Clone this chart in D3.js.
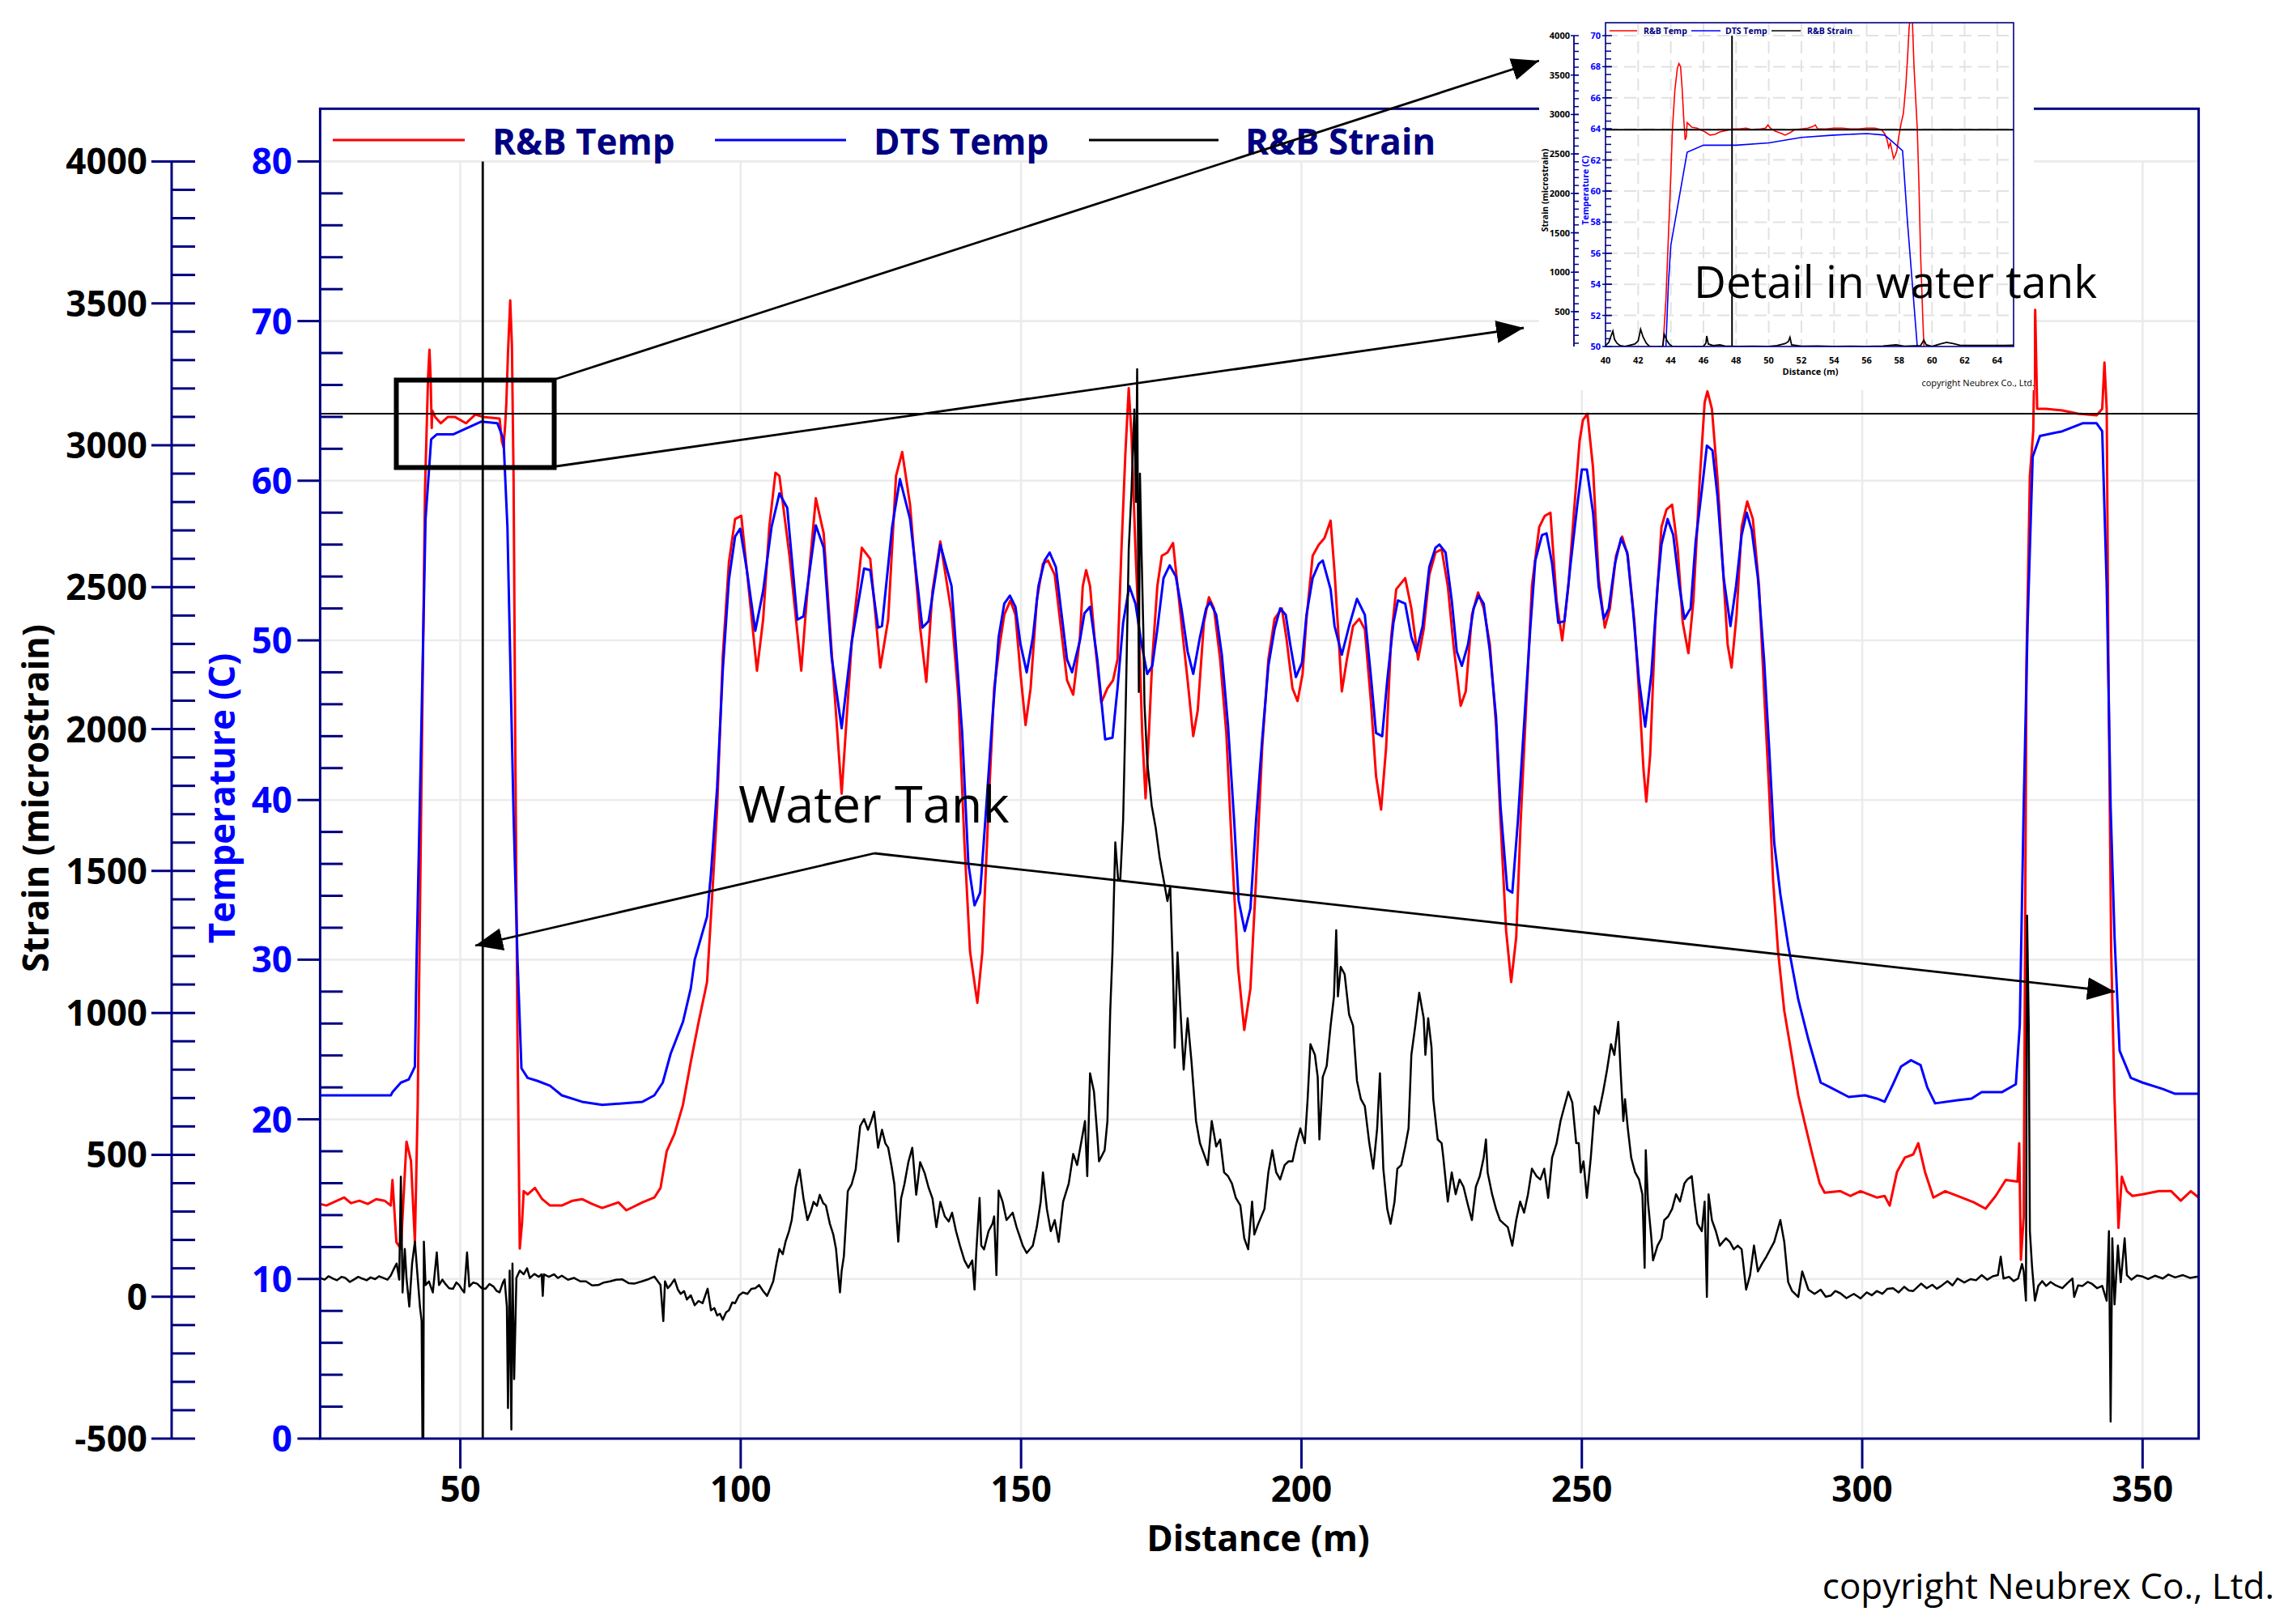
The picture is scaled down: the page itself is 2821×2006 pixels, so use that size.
<!DOCTYPE html>
<html><head><meta charset="utf-8">
<script src="https://cdn.jsdelivr.net/npm/d3@7"></script>
<style>html,body{margin:0;padding:0;background:#fff;}svg{display:block;}</style>
</head><body>
<script>
// ---------------- DATA ----------------
const xTicks = [50,100,150,200,250,300,350];
const tempTicks = [0,10,20,30,40,50,60,70,80];
const strainTicks = [-500,0,500,1000,1500,2000,2500,3000,3500,4000];
const legendNames = ["R&B Temp","DTS Temp","R&B Strain"];
const seriesColors = ["#ff0000","#0000ff","#000000"];
const refTemp = 64.2, refDist = 54.0;

const rbTemp = [[25,14.7],[26.1,14.6],[28,14.9],[29.3,15.1],[30.5,14.75],[32,14.9],[33.5,14.7],[35,15],[36.5,14.9],[37.6,14.6],[37.9,16.2],[38.6,12.3],[39.4,11.9],[40.4,18.6],[41.2,17.4],[41.9,12.3],[42.4,20.9],[43,39],[43.7,59.4],[44.25,66.5],[44.5,68.2],[44.7,66.5],[44.9,63.3],[45,64.4],[45.5,64],[46.5,63.6],[47.8,64],[49,64],[51,63.6],[52.7,64.15],[54,64],[57,63.9],[57.4,62.5],[57.7,62.1],[58,63.5],[58.2,64.8],[58.5,68],[58.9,71.3],[59.2,68.5],[59.5,60],[59.8,43.6],[60.2,25],[60.6,11.9],[61,13.5],[61.3,15.5],[62,15.3],[63.3,15.7],[64.6,15],[66,14.6],[68.1,14.6],[70,14.9],[71.7,15],[73.5,14.7],[75.3,14.45],[78.2,14.8],[79.6,14.3],[82.5,14.8],[84.6,15.1],[85.7,15.7],[86.8,18],[88.2,19.1],[89.7,20.9],[91.1,23.6],[92.5,26.1],[94,28.6],[95,34.5],[95.8,39.5],[96.8,49],[97.9,54.9],[99,57.6],[100.1,57.8],[101.1,54.4],[102.9,48.1],[104,51.3],[105.1,57.1],[106.2,60.5],[106.9,60.3],[108.7,55.3],[110.8,48.1],[111.9,53.1],[113.4,58.9],[114.8,56.7],[116.2,49.4],[118,40.4],[119.8,49.9],[121.6,55.8],[123.1,55.1],[124.9,48.3],[126.3,51.3],[127.7,60.3],[128.8,61.8],[130.2,58.5],[132,50.8],[133.1,47.4],[134.2,53.1],[135.6,56.2],[137.6,51.7],[138.8,46.5],[139.9,37.3],[140.9,30.5],[142.2,27.3],[143.1,30.5],[144.2,39.6],[145.2,47],[146.2,49.75],[147,51.6],[148.1,52.5],[149,51.6],[149.9,47.9],[150.8,44.7],[151.7,47],[152.8,52.5],[153.9,54.8],[154.8,55],[156,54.1],[157,51.1],[158.2,47.5],[159.3,46.6],[160.5,50.2],[161,53.4],[161.6,54.4],[162.3,53.4],[163.2,49.75],[164.3,46.1],[165.4,47],[166.4,47.5],[167.2,48.8],[167.9,55.7],[168.6,61.7],[169.2,65.8],[169.7,62.8],[170.4,55.7],[171.1,49.75],[171.6,44.2],[172.2,40.1],[172.8,44.2],[173.4,48.8],[174.3,53.4],[175.1,55.3],[176.1,55.5],[177.1,56.1],[177.9,53.4],[179,49.75],[179.7,47.5],[180.7,44],[181.5,45.6],[182.6,51.1],[183.5,52.7],[184.4,52],[185.5,48.8],[186.6,44.2],[187.6,36.9],[188.7,29.5],[189.8,25.6],[190.9,28.2],[191.9,35],[193,43.3],[194.1,48.8],[195.2,51.35],[196.5,52],[197.3,50.2],[198.4,47],[199.3,46.2],[200.2,47.9],[200.9,51.35],[202,55.3],[203.1,56],[204.1,56.4],[205.2,57.5],[205.9,54.3],[206.7,49.75],[207.2,46.8],[208.1,48.8],[209.2,50.9],[210.3,51.35],[211.3,50.7],[212.4,46.1],[213.3,41.5],[214.2,39.4],[215.1,43.3],[216,50.2],[216.9,53.2],[218.5,53.9],[219.6,52],[220.8,48.8],[221.8,50.7],[222.8,54.1],[223.9,55.5],[225,55.7],[226.1,53.4],[227.1,49.75],[228.4,45.9],[229.3,46.8],[230.4,51.6],[231.5,53],[232.5,52],[233.6,49.75],[234.7,44.7],[235.5,38.7],[236.5,31.8],[237.4,28.6],[238.3,31.4],[239.1,38.7],[240.1,46.1],[241.1,53.4],[242.4,57.1],[243.4,57.8],[244.4,58],[245.5,52.5],[246.5,50],[247.6,53.4],[248.7,58.5],[249.6,62.5],[250.2,63.8],[251,64.2],[252,60.8],[253,53.9],[254.1,50.8],[255,52],[256.1,55.3],[257.2,56.5],[258.2,55.3],[259.4,51.1],[260.4,45.6],[261,41.9],[261.5,39.9],[262.2,42.9],[263.1,51.1],[264.2,57.1],[265.1,58.2],[266.1,58.5],[267.1,55.7],[268,51.1],[269,49.2],[269.9,52.5],[271,59.9],[271.9,64.9],[272.4,65.6],[273.2,64.5],[274.2,60.1],[275.2,54.3],[276,49.75],[276.7,48.3],[277.6,51.6],[278.5,57.1],[279.5,58.7],[280.5,57.6],[281.6,53.4],[282.6,46.1],[283.4,40.6],[284.1,35],[285,30.5],[286.1,26.8],[287.2,24.5],[288.6,21.5],[290,19.4],[291.1,17.8],[292.4,16],[293.3,15.4],[296.1,15.5],[297.9,15.2],[299.7,15.5],[302.6,15.1],[304,15.2],[304.9,14.6],[306.2,16.7],[307.6,17.6],[309.1,17.8],[310,18.5],[311.2,16.7],[312.7,15.1],[314.8,15.5],[317.7,15.1],[319.9,14.8],[322,14.4],[323.8,15.2],[325.6,16.2],[327.7,16.1],[328,18.5],[328.3,11.2],[328.8,13.9],[329.3,48.8],[329.9,60.3],[330.5,63.1],[330.85,70.7],[331.2,64.5],[332.8,64.5],[335.7,64.4],[338.5,64.2],[341.8,64.1],[342.8,64.5],[343.2,67.4],[343.6,64.5],[343.9,48.8],[344.4,30.5],[345,21.3],[345.7,13.2],[346.3,16.4],[347.2,15.5],[348.2,15.2],[350,15.3],[352.9,15.5],[355.1,15.5],[356.8,14.9],[358.6,15.5],[360,15.1]];

const dtsTemp = [[25,21.5],[37.6,21.5],[37.9,21.7],[39.4,22.3],[40.8,22.5],[41.9,23.3],[42.2,30],[43,43.6],[43.8,57.6],[44.8,62.6],[45.8,62.9],[48.7,62.9],[53.7,63.7],[56.6,63.6],[57.7,62.6],[58.4,57.1],[59.5,39],[60.2,30],[60.9,23.2],[62,22.6],[63.8,22.4],[66,22.1],[68.1,21.5],[71.7,21.1],[75.3,20.9],[82.5,21.1],[84.6,21.5],[86.1,22.3],[87.5,24.1],[89.7,26.1],[91.1,28.2],[91.8,30],[94,32.7],[94.7,35.4],[95.8,40.8],[96.8,48.1],[97.9,53.8],[99,56.5],[99.9,57],[101.1,54.4],[102.6,50.6],[104,53.1],[105.5,57.1],[106.9,59.2],[108.3,58.3],[110.1,51.3],[111.2,51.5],[113.4,57.2],[114.8,55.8],[116.2,49],[118,44.5],[119.8,49.9],[122,54.5],[123.1,54.4],[124.5,50.8],[125.2,50.9],[127,57.1],[128.4,60.1],[130.2,57.6],[132.4,50.8],[133.5,51.2],[135.6,56],[137.6,53.4],[139.5,44.2],[140.6,36],[141.7,33.4],[142.7,34.2],[143.8,39.6],[144.9,45.2],[146,50.2],[147,52.3],[148,52.8],[149,52.1],[149.9,49.75],[151,48],[152.1,50.2],[153.1,53.4],[154.2,55],[155.1,55.5],[156.2,54.6],[157.1,52],[158.2,48.8],[159.1,48],[160.5,50],[161.3,51.7],[162.3,52.1],[163.6,48.8],[165,43.8],[166.3,43.9],[167.2,47],[168.2,51.1],[169.3,53.4],[170.4,52.3],[171.5,49.75],[172.5,47.9],[173.4,48.4],[174.3,50.7],[175.4,53.9],[176.5,54.7],[177.6,54],[178.6,52],[179.7,49.3],[180.7,47.9],[181.9,50.2],[183,52],[183.7,52.4],[184.8,51.6],[185.8,49.1],[186.9,44.7],[188,38.7],[188.8,33.7],[189.9,31.8],[190.9,33.2],[191.9,38.7],[193,43.8],[194.1,48.4],[195.2,50.7],[196.2,52],[197.2,51.6],[198,49.75],[199,47.7],[200.1,48.6],[200.9,51.6],[202,53.9],[203.1,54.8],[203.8,55],[205.2,53.2],[205.9,50.9],[207.2,49.1],[208.5,50.9],[209.9,52.6],[211.3,51.6],[212.4,47.7],[213.3,44.2],[214.4,44],[215.3,47.5],[216.4,51.1],[217.2,52.5],[218.5,52.3],[219.6,50.2],[220.5,49.3],[221.6,50.9],[222.8,54.6],[223.9,55.8],[224.6,56],[225.7,55.5],[226.8,52.5],[227.7,49.3],[228.6,48.4],[229.7,49.75],[230.7,52],[231.6,52.8],[232.5,52.3],[233.6,49.3],[234.7,45.2],[235.5,39.6],[236.7,34.4],[237.6,34.2],[238.6,38.7],[239.6,44.2],[240.8,50.7],[241.7,55],[242.9,56.6],[243.7,56.7],[244.7,54.8],[245.8,51.1],[246.9,51.2],[248,54.8],[249.2,58.5],[250,60.7],[250.9,60.7],[252,58],[253,53.4],[253.9,51.35],[254.8,52],[255.9,54.8],[257,56.4],[258.1,55.5],[259.1,52],[260.2,47.5],[261.3,44.6],[262.4,47.9],[263.5,53.4],[264.2,56],[265.3,57.6],[266.3,56.6],[267.4,53.4],[268.3,51.35],[269.4,52],[270.3,56.2],[271.4,59.4],[272.3,62.2],[273.3,61.9],[274.2,59],[275.3,53.9],[276.5,50.9],[277.5,53.4],[278.5,56.6],[279.4,58],[280.3,56.9],[281.4,53.9],[282.5,48.8],[283.4,43.3],[284.3,37.35],[285.4,34.1],[286.8,30.9],[288.6,27.5],[290.4,25],[292.6,22.3],[294.3,22],[297.6,21.4],[300.5,21.5],[302.6,21.3],[304,21.1],[305.5,22.2],[306.9,23.3],[308.7,23.7],[310.4,23.4],[311.6,22],[313,21],[317,21.2],[319.5,21.3],[321.3,21.7],[324.9,21.7],[327.4,22.2],[328.1,25.9],[328.8,39.6],[329.5,51.1],[330.4,61.5],[331.7,62.8],[335.7,63.1],[339.3,63.6],[341.8,63.6],[342.8,63.1],[343.6,53.4],[344.3,39.6],[345,31.4],[345.9,24.3],[347.9,22.6],[350,22.3],[353.6,21.9],[355.8,21.6],[360,21.6]];

const rbStrain = [[25,66],[25.8,60],[26.5,72],[27.3,64],[28,58],[28.8,70],[29.5,66],[30.3,52],[31,60],[31.8,70],[32.5,64],[33.3,58],[34,68],[34.8,62],[35.5,72],[36.3,66],[37,60],[37.6,75],[38.2,100],[38.65,117],[39.1,60],[39.4,423],[39.7,15],[40.1,168],[40.4,66],[40.9,-35],[41.4,117],[41.9,194],[42.4,66],[42.8,-35],[43.1,-86],[43.25,-520],[43.4,-520],[43.5,194],[43.8,41],[44.4,54],[45.1,15],[45.8,156],[46.2,41],[46.8,60],[47.3,46],[48,30],[48.7,28],[49.3,50],[49.8,41],[50.3,25],[50.7,15],[51.2,156],[51.6,36],[52.3,50],[53,46],[53.8,30],[54.5,28],[55.2,45],[55.9,36],[56.5,20],[57,15],[57.6,50],[57.9,61],[58.3,-35],[58.5,-392],[58.8,92],[59.1,-468],[59.3,117],[59.6,-290],[60,66],[60.6,92],[61.3,79],[61.9,100],[62.4,66],[63.2,80],[64,70],[64.5,79],[64.7,3],[64.9,79],[65.8,70],[66.7,79],[67.4,66],[68.1,74],[69.2,60],[70.3,66],[71.4,54],[72.4,54],[73.5,40],[74.6,41],[75.6,50],[76.7,54],[77.8,60],[78.9,61],[80,48],[81,46],[82.5,55],[83.6,62],[84.6,71],[85.7,41],[86.2,-86],[86.5,54],[87,30],[87.5,41],[88.2,61],[88.8,25],[89.3,10],[89.9,20],[90.4,-10],[91.1,5],[91.8,-30],[92.5,-15],[93.2,-23],[94.1,28],[94.7,-48],[95.3,-40],[95.8,-66],[96.3,-60],[96.8,-81],[97.4,-55],[97.9,-48],[98.5,-20],[99,-23],[99.7,5],[100.4,15],[101.2,10],[101.9,28],[102.6,30],[103.3,41],[104,20],[104.7,3],[105.3,30],[105.8,54],[106.4,120],[106.9,168],[107.5,150],[108,194],[108.6,230],[109.1,270],[109.8,385],[110.5,448],[111.2,346],[111.9,270],[112.5,300],[113,334],[113.6,320],[114.1,359],[114.7,330],[115.2,321],[115.9,257],[116.5,220],[117,168],[117.4,80],[117.7,15],[118,90],[118.4,143],[119.1,372],[119.8,397],[120.5,448],[121.3,601],[122,626],[122.7,588],[123.3,620],[123.8,652],[124.5,525],[125.2,588],[125.8,540],[126.3,525],[126.9,460],[127.4,397],[128.1,194],[128.6,346],[129.2,397],[129.9,474],[130.6,525],[131.3,359],[132,474],[132.8,436],[133.5,385],[134.2,346],[134.9,245],[135.6,334],[136.4,283],[137.1,265],[137.7,296],[138.4,231],[139.1,180],[139.9,128],[140.6,102],[141.3,128],[141.7,25],[142,154],[142.6,348],[142.9,180],[143.4,167],[144.2,231],[144.9,257],[145.2,283],[145.6,76],[146,374],[146.7,335],[147.4,270],[148.5,296],[149.2,245],[150.3,180],[151,154],[152.1,180],[152.8,245],[153.5,335],[153.9,438],[154.6,309],[155.3,231],[156,270],[156.7,193],[157.5,335],[158.5,399],[159.3,503],[160,464],[160.7,541],[161.4,619],[161.8,425],[162.3,787],[163,722],[163.6,567],[163.9,477],[164.9,516],[165.4,619],[165.9,1007],[166.3,1213],[166.8,1601],[167.3,1472],[167.7,1472],[168.2,1679],[168.7,2118],[169.2,2635],[169.7,2841],[170.2,3126],[170.5,2800],[170.7,3268],[171,2131],[171.2,2900],[171.5,2609],[171.8,2350],[172,2092],[172.5,1885],[173.3,1730],[174,1653],[174.7,1549],[175.4,1472],[176.1,1394],[176.6,1446],[177.1,1136],[177.4,877],[177.9,1213],[178.5,981],[179,800],[179.7,981],[180.4,826],[181.2,619],[181.9,541],[182.6,503],[183.3,464],[184,619],[184.8,529],[185.5,554],[186.2,438],[186.9,425],[187.6,399],[188.3,348],[189.1,322],[189.8,206],[190.5,167],[191.2,335],[191.6,219],[192.3,257],[193.4,309],[194.1,438],[194.8,516],[195.5,438],[196.2,413],[197,464],[197.7,477],[198.4,477],[199.1,541],[199.8,593],[200.6,541],[201.1,696],[201.6,890],[202.4,852],[202.9,774],[203.2,554],[203.8,774],[204.5,813],[205.2,955],[205.8,1058],[206.2,1291],[206.5,1058],[207,1162],[207.7,1136],[208.5,994],[209.2,955],[209.9,761],[210.6,696],[211.3,671],[212.1,541],[212.8,451],[213.5,593],[214,787],[214.6,451],[215.3,309],[215.9,257],[216.6,335],[217.1,451],[217.8,464],[218.5,529],[219.1,593],[219.6,852],[220.3,955],[221,1071],[221.8,981],[222.1,852],[222.6,981],[223.2,877],[223.5,696],[224.3,554],[225,541],[225.3,490],[226.1,335],[226.8,438],[227.5,361],[228.2,413],[228.9,387],[229.7,322],[230.4,270],[231.1,387],[231.8,425],[232.5,490],[232.9,554],[233.2,438],[234,361],[234.7,309],[235.4,270],[236.1,257],[236.8,245],[237.6,180],[238.3,270],[239,335],[239.7,296],[240.4,361],[241.1,451],[241.9,425],[242.6,413],[243.3,451],[244,348],[244.7,490],[245.5,541],[246.2,619],[246.9,671],[247.6,722],[248.3,684],[249,541],[249.45,541],[249.8,438],[250.3,477],[250.9,348],[251.6,490],[252.3,671],[253,645],[253.8,722],[254.5,800],[255.2,890],[255.8,852],[256.1,903],[256.5,968],[256.9,800],[257.4,619],[257.7,696],[258.2,593],[258.8,490],[259.5,438],[260.2,413],[260.8,361],[261.2,102],[261.4,516],[261.8,335],[262.4,206],[262.7,128],[263.5,180],[264.2,206],[264.7,270],[265.4,283],[266.1,309],[266.8,361],[267.5,335],[268.3,399],[268.8,413],[269.6,425],[270.1,335],[270.6,257],[271.4,231],[271.9,335],[272.3,-1],[272.6,361],[273.2,270],[273.9,231],[274.6,180],[275.7,206],[276.4,193],[277.1,167],[277.8,180],[278.5,167],[279.3,25],[280,76],[280.7,180],[281.4,89],[282.1,115],[282.9,141],[283.6,167],[284.3,193],[285.4,270],[286.1,193],[286.8,51],[287.5,20],[288.6,-1],[289.3,89],[290.4,25],[291.5,10],[292.6,25],[293.5,0],[294.4,4],[295.2,20],[296.1,12],[297.2,-5],[298.5,10],[299.7,-6],[300.8,15],[301.7,5],[302.6,20],[303.6,10],[304.5,28],[305.5,30],[306.5,15],[307.5,35],[308.3,22],[309.1,20],[310.5,46],[311.5,30],[312.5,42],[313.3,28],[314.1,38],[315.2,55],[316.1,40],[317,64],[318.2,50],[319.3,62],[320.3,58],[321.3,76],[322.3,60],[323.3,72],[324.2,76],[324.7,141],[325.2,64],[326.2,70],[327,55],[327.8,64],[328.5,115],[328.8,89],[329.2,-14],[329.4,1343],[329.7,955],[329.9,231],[330.3,102],[330.8,-14],[331.4,38],[332.1,55],[332.8,38],[333.6,52],[334.5,40],[335.7,30],[336.6,48],[337.5,64],[337.8,-1],[338.5,40],[339.3,38],[340.2,52],[341,45],[341.9,30],[342.8,38],[343.6,-14],[344,231],[344.3,-440],[344.6,206],[345,-27],[345.6,180],[346.1,51],[346.8,206],[347.2,76],[348,60],[349,75],[350,71],[351,62],[352.2,74],[353.6,64],[354.6,78],[355.8,68],[357.2,76],[358.5,66],[359.9,71]];

// inset (detail in water tank)
const insetXTicks = [40,42,44,46,48,50,52,54,56,58,60,62,64];
const insetTempTicks = [50,52,54,56,58,60,62,64,66,68,70];
const insetStrainTicks = [500,1000,1500,2000,2500,3000,3500,4000];
const insetRefTemp = 63.95, insetRefDist = 47.75;
const insetRbTemp = [[43.3,45],[43.55,50.5],[43.7,53],[43.85,57],[44,61],[44.1,64],[44.25,66.5],[44.4,67.9],[44.5,68.2],[44.6,68],[44.7,66.5],[44.8,64.5],[44.88,63.3],[44.95,63.5],[45,64.4],[45.1,64.3],[45.3,64.1],[45.6,64.05],[45.9,63.9],[46.1,63.8],[46.4,63.6],[46.7,63.65],[47,63.8],[47.4,63.9],[47.8,64],[48.2,64],[48.6,64.05],[49,63.95],[49.5,64],[49.8,64.05],[49.95,64.25],[50.1,64.05],[50.4,63.85],[50.8,63.7],[51,63.6],[51.3,63.75],[51.6,63.95],[52,64],[52.4,64.05],[52.7,64.15],[52.85,64.25],[53,64],[53.5,64],[54,64.05],[54.5,64.05],[55,64],[55.5,64],[56,64.05],[56.5,64.05],[56.9,63.95],[57.1,63.7],[57.25,63.3],[57.35,62.8],[57.45,63.1],[57.55,62.6],[57.65,62.1],[57.75,62.3],[57.85,62.6],[57.95,63.4],[58.1,64.3],[58.25,65],[58.4,66.8],[58.5,68.5],[58.6,70.5],[58.7,71.5],[58.8,71],[58.9,68],[59,66],[59.1,64],[59.2,60.5],[59.3,56],[59.45,51.5],[59.55,49]];
const insetDtsTemp = [[43.5,45],[43.7,50],[43.85,54],[44,56.5],[44.5,59.5],[45,62.5],[46,62.95],[48,62.95],[50,63.1],[52,63.45],[54,63.6],[56,63.7],[57.1,63.6],[57.5,63.25],[58.2,62.6],[58.5,58],[59.1,50],[59.3,47]];
const insetRbStrain = [[40,70],[40.2,110],[40.35,200],[40.45,254],[40.55,150],[40.7,100],[40.9,70],[41.2,60],[41.5,75],[41.8,90],[42,130],[42.15,277],[42.3,180],[42.5,100],[42.7,60],[43,55],[43.5,60],[43.6,212],[43.75,140],[43.9,90],[44.1,60],[45,58],[46,62],[46.15,100],[46.2,192],[46.3,90],[46.6,70],[47,80],[47.3,65],[48,60],[49,62],[50,60],[50.5,70],[51,95],[51.2,120],[51.3,175],[51.4,80],[52,62],[53,65],[54,60],[55,62],[56,60],[57,65],[57.8,80],[58.3,62],[59.3,70],[59.5,140],[59.65,80],[60,60],[60.5,90],[60.9,110],[61.3,95],[61.7,75],[62.5,72],[63.5,72],[64.5,72],[65,75]];

// ---------------- DRAW ----------------
(function draw() {
const W = 2821, H = 2006;
const NAVY = "#000080";
const FONT = "'Open Sans', 'Noto Sans', sans-serif";
const svg = d3.select("body").append("svg").attr("width", W).attr("height", H)
  .style("font-family", FONT);
svg.append("rect").attr("width", W).attr("height", H).attr("fill", "#fff");

const x = d3.scaleLinear().domain([25, 360]).range([395.4, 2715.6]);
const yT = d3.scaleLinear().domain([0, 80]).range([1777, 199.4]);
const yS = d3.scaleLinear().domain([-500, 4000]).range([1777, 199.4]);
const pL = x(25), pR = x(360), pT = yT(83.3), pB = yT(0);

const defs = svg.append("defs");
defs.append("clipPath").attr("id", "plotClip").append("rect")
  .attr("x", pL).attr("y", pT).attr("width", pR - pL).attr("height", pB - pT);
defs.append("marker").attr("id", "arrow").attr("viewBox", "0 0 34 28")
  .attr("refX", 34).attr("refY", 14).attr("markerWidth", 34).attr("markerHeight", 28)
  .attr("markerUnits", "userSpaceOnUse").attr("orient", "auto")
  .append("path").attr("d", "M0,0 L34,14 L0,28 Z").attr("fill", "#000");

// grid
const grid = svg.append("g").attr("stroke", "#ebebeb").attr("stroke-width", 2.6);
grid.selectAll("line.h").data(tempTicks.filter(t => t > 0)).join("line").attr("class", "h")
  .attr("x1", pL).attr("x2", pR).attr("y1", d => yT(d)).attr("y2", d => yT(d));
grid.selectAll("line.v").data(xTicks).join("line").attr("class", "v")
  .attr("x1", d => x(d)).attr("x2", d => x(d)).attr("y1", yT(80)).attr("y2", pB);

// series
const plot = svg.append("g").attr("clip-path", "url(#plotClip)");
const lineT = d3.line().x(d => x(d[0])).y(d => yT(d[1]));
const lineS = d3.line().x(d => x(d[0])).y(d => yS(d[1]));
plot.append("path").datum(rbTemp).attr("d", lineT).attr("fill", "none")
  .attr("stroke", seriesColors[0]).attr("stroke-width", 3).attr("stroke-linejoin", "round");
plot.append("path").datum(dtsTemp).attr("d", lineT).attr("fill", "none")
  .attr("stroke", seriesColors[1]).attr("stroke-width", 3).attr("stroke-linejoin", "round");
plot.append("path").datum(rbStrain).attr("d", lineS).attr("fill", "none")
  .attr("stroke", seriesColors[2]).attr("stroke-width", 2.5).attr("stroke-linejoin", "round");

// reference lines
svg.append("line").attr("x1", pL).attr("x2", pR).attr("y1", yT(refTemp)).attr("y2", yT(refTemp))
  .attr("stroke", "#000").attr("stroke-width", 2);
svg.append("line").attr("x1", x(refDist)).attr("x2", x(refDist)).attr("y1", yT(80)).attr("y2", pB)
  .attr("stroke", "#000").attr("stroke-width", 2.8);

// frame
svg.append("rect").attr("x", pL).attr("y", pT).attr("width", pR - pL).attr("height", pB - pT)
  .attr("fill", "none").attr("stroke", NAVY).attr("stroke-width", 3);

// x axis ticks & labels
const xa = svg.append("g");
xa.selectAll("line").data(xTicks).join("line")
  .attr("x1", d => x(d)).attr("x2", d => x(d)).attr("y1", pB).attr("y2", pB + 37)
  .attr("stroke", NAVY).attr("stroke-width", 3);
xa.selectAll("text").data(xTicks).join("text")
  .attr("x", d => x(d)).attr("y", 1855).attr("text-anchor", "middle")
  .attr("font-size", 44).attr("font-weight", "bold").attr("fill", "#000").text(d => d);
svg.append("text").attr("x", 1554).attr("y", 1916).attr("text-anchor", "middle")
  .attr("font-size", 44).attr("font-weight", "bold").attr("fill", "#000").text("Distance (m)");

// temperature axis (frame left)
const ta = svg.append("g");
ta.selectAll("line.maj").data(tempTicks).join("line").attr("class", "maj")
  .attr("x1", pL - 28).attr("x2", pL).attr("y1", d => yT(d)).attr("y2", d => yT(d))
  .attr("stroke", NAVY).attr("stroke-width", 3);
ta.selectAll("line.min").data(d3.range(2, 80, 2).filter(v => v % 10 !== 0)).join("line").attr("class", "min")
  .attr("x1", pL).attr("x2", pL + 28).attr("y1", d => yT(d)).attr("y2", d => yT(d))
  .attr("stroke", NAVY).attr("stroke-width", 3);
ta.selectAll("text").data(tempTicks).join("text")
  .attr("x", 361).attr("y", d => yT(d) + 16).attr("text-anchor", "end")
  .attr("font-size", 44).attr("font-weight", "bold").attr("fill", "#0000ff").text(d => d);
svg.append("text").attr("transform", `translate(273,986) rotate(-90)`).attr("text-anchor", "middle")
  .attr("dominant-baseline", "central")
  .attr("font-size", 44).attr("font-weight", "bold").attr("fill", "#0000ff").text("Temperature (C)");

// strain axis
const sx = 212;
const sa = svg.append("g");
sa.append("line").attr("x1", sx).attr("x2", sx).attr("y1", yS(4000)).attr("y2", yS(-500))
  .attr("stroke", NAVY).attr("stroke-width", 3);
sa.selectAll("line.maj").data(strainTicks).join("line").attr("class", "maj")
  .attr("x1", sx - 25).attr("x2", sx + 29).attr("y1", d => yS(d)).attr("y2", d => yS(d))
  .attr("stroke", NAVY).attr("stroke-width", 3);
sa.selectAll("line.min").data(d3.range(-400, 4000, 100).filter(v => v % 500 !== 0)).join("line").attr("class", "min")
  .attr("x1", sx).attr("x2", sx + 29).attr("y1", d => yS(d)).attr("y2", d => yS(d))
  .attr("stroke", NAVY).attr("stroke-width", 3);
sa.selectAll("text").data(strainTicks).join("text")
  .attr("x", 182).attr("y", d => yS(d) + 16).attr("text-anchor", "end")
  .attr("font-size", 44).attr("font-weight", "bold").attr("fill", "#000").text(d => d);
svg.append("text").attr("transform", `translate(43,986) rotate(-90)`).attr("text-anchor", "middle")
  .attr("dominant-baseline", "central")
  .attr("font-size", 44).attr("font-weight", "bold").attr("fill", "#000").text("Strain (microstrain)");

// legend
const legendPos = [[411, 574, 608], [883, 1045, 1079], [1345, 1505, 1538]];
legendNames.forEach((n, i) => {
  const [a, b, t] = legendPos[i];
  svg.append("line").attr("x1", a).attr("x2", b).attr("y1", 173).attr("y2", 173)
    .attr("stroke", seriesColors[i]).attr("stroke-width", 3);
  svg.append("text").attr("x", t).attr("y", 191).attr("font-size", 44).attr("font-weight", "bold")
    .attr("fill", NAVY).text(n);
});

// annotations: rectangle + arrows
svg.append("rect").attr("x", 489.5).attr("y", 469.5).attr("width", 195).attr("height", 108)
  .attr("fill", "none").attr("stroke", "#000").attr("stroke-width", 6);
const arrows = [[[687, 468], [1901, 75]], [[687, 576], [1882, 405]], [[1080, 1054], [587, 1168]], [[1080, 1054], [2612, 1225]]];
arrows.forEach(a => {
  svg.append("line").attr("x1", a[0][0]).attr("y1", a[0][1]).attr("x2", a[1][0]).attr("y2", a[1][1])
    .attr("stroke", "#000").attr("stroke-width", 2.8).attr("marker-end", "url(#arrow)");
});
svg.append("text").attr("x", 912).attr("y", 1016).attr("font-size", 63).attr("fill", "#000").text("Water Tank");

// ---------------- INSET ----------------
const ig = svg.append("g");
ig.append("rect").attr("x", 1901).attr("y", 0).attr("width", 611).attr("height", 482).attr("fill", "#fff");
const ix = d3.scaleLinear().domain([40, 65]).range([1983, 2487]);
const iyT = d3.scaleLinear().domain([50, 70]).range([428, 44]);
const iyS = d3.scaleLinear().domain([0, 4000]).range([433.7, 44]);
const iTop = iyT(70.83), iBot = iyT(50), iL = ix(40), iR = ix(65);
defs.append("clipPath").attr("id", "insetClip").append("rect")
  .attr("x", iL).attr("y", iTop).attr("width", iR - iL).attr("height", iBot - iTop);
const ig2 = ig.append("g").attr("stroke", "#e2e2e2").attr("stroke-width", 2).attr("stroke-dasharray", "15,8");
ig2.selectAll("line.h").data(insetTempTicks.filter(t => t > 50)).join("line").attr("class", "h")
  .attr("x1", iL).attr("x2", iR).attr("y1", d => iyT(d)).attr("y2", d => iyT(d));
ig2.selectAll("line.v").data(insetXTicks.filter(t => t > 40)).join("line").attr("class", "v")
  .attr("x1", d => ix(d)).attr("x2", d => ix(d)).attr("y1", iTop).attr("y2", iBot);
const ip = ig.append("g").attr("clip-path", "url(#insetClip)");
const ilT = d3.line().x(d => ix(d[0])).y(d => iyT(d[1]));
const ilS = d3.line().x(d => ix(d[0])).y(d => iyS(d[1]));
ip.append("path").datum(insetRbTemp).attr("d", ilT).attr("fill", "none").attr("stroke", seriesColors[0]).attr("stroke-width", 1.6);
ip.append("path").datum(insetDtsTemp).attr("d", ilT).attr("fill", "none").attr("stroke", seriesColors[1]).attr("stroke-width", 1.6);
ip.append("path").datum(insetRbStrain).attr("d", ilS).attr("fill", "none").attr("stroke", seriesColors[2]).attr("stroke-width", 1.8);
ig.append("line").attr("x1", iL).attr("x2", iR).attr("y1", iyT(insetRefTemp)).attr("y2", iyT(insetRefTemp))
  .attr("stroke", "#000").attr("stroke-width", 2);
ig.append("line").attr("x1", ix(insetRefDist)).attr("x2", ix(insetRefDist)).attr("y1", iyT(70)).attr("y2", iBot)
  .attr("stroke", "#000").attr("stroke-width", 2);
ig.append("rect").attr("x", iL).attr("y", iTop).attr("width", iR - iL).attr("height", iBot - iTop)
  .attr("fill", "none").attr("stroke", NAVY).attr("stroke-width", 1.6);
// inset temp axis
ig.selectAll("line.itmin").data(d3.range(50.5, 70, 0.5)).join("line").attr("class", "itmin")
  .attr("x1", iL).attr("x2", iL + 7).attr("y1", d => iyT(d)).attr("y2", d => iyT(d))
  .attr("stroke", NAVY).attr("stroke-width", 1.5);
ig.selectAll("line.itmaj").data(insetTempTicks).join("line").attr("class", "itmaj")
  .attr("x1", iL - 4).attr("x2", iL + 8).attr("y1", d => iyT(d)).attr("y2", d => iyT(d))
  .attr("stroke", NAVY).attr("stroke-width", 1.5);
ig.selectAll("text.itl").data(insetTempTicks).join("text").attr("class", "itl")
  .attr("x", 1977).attr("y", d => iyT(d) + 4).attr("text-anchor", "end")
  .attr("font-size", 11).attr("font-weight", "bold").attr("fill", "#0000ff").text(d => d);
ig.append("text").attr("transform", "translate(1958,235) rotate(-90)").attr("text-anchor", "middle")
  .attr("dominant-baseline", "central").attr("font-size", 10.5).attr("font-weight", "bold")
  .attr("fill", "#0000ff").text("Temperature (C)");
// inset strain axis
const isx = 1944;
ig.append("line").attr("x1", isx).attr("x2", isx).attr("y1", iyS(4000)).attr("y2", iBot)
  .attr("stroke", NAVY).attr("stroke-width", 1.8);
ig.selectAll("line.ismin").data(d3.range(100, 4000, 100)).join("line").attr("class", "ismin")
  .attr("x1", isx).attr("x2", isx + 6).attr("y1", d => iyS(d)).attr("y2", d => iyS(d))
  .attr("stroke", NAVY).attr("stroke-width", 1.5);
ig.selectAll("line.ismaj").data(insetStrainTicks).join("line").attr("class", "ismaj")
  .attr("x1", isx - 4).attr("x2", isx + 6).attr("y1", d => iyS(d)).attr("y2", d => iyS(d))
  .attr("stroke", NAVY).attr("stroke-width", 1.5);
ig.selectAll("text.isl").data(insetStrainTicks).join("text").attr("class", "isl")
  .attr("x", 1939).attr("y", d => iyS(d) + 4).attr("text-anchor", "end")
  .attr("font-size", 11).attr("font-weight", "bold").attr("fill", "#000").text(d => d);
ig.append("text").attr("transform", "translate(1908,235) rotate(-90)").attr("text-anchor", "middle")
  .attr("dominant-baseline", "central").attr("font-size", 10.5).attr("font-weight", "bold")
  .attr("fill", "#000").text("Strain (microstrain)");
// inset x axis
ig.selectAll("text.ixl").data(insetXTicks).join("text").attr("class", "ixl")
  .attr("x", d => ix(d)).attr("y", 449).attr("text-anchor", "middle")
  .attr("font-size", 11).attr("font-weight", "bold").attr("fill", "#000").text(d => d);
ig.append("text").attr("x", 2236).attr("y", 463).attr("text-anchor", "middle")
  .attr("font-size", 11).attr("font-weight", "bold").attr("fill", "#000").text("Distance (m)");
ig.append("text").attr("x", 2513).attr("y", 477).attr("text-anchor", "end")
  .attr("font-size", 11).attr("fill", "#000").text("copyright Neubrex Co., Ltd.");
// inset legend
const iLeg = [[1988, 2022, 2030], [2089, 2125, 2131], [2188, 2224, 2232]];
legendNames.forEach((n, i) => {
  const [a, b, t] = iLeg[i];
  ig.append("line").attr("x1", a).attr("x2", b).attr("y1", 38).attr("y2", 38)
    .attr("stroke", seriesColors[i]).attr("stroke-width", 1.5);
  ig.append("text").attr("x", t).attr("y", 42).attr("font-size", 10.5).attr("font-weight", "bold")
    .attr("fill", NAVY).text(n);
});
svg.append("text").attr("x", 2092).attr("y", 368).attr("font-size", 55).attr("fill", "#000").text("Detail in water tank");

// copyright
svg.append("text").attr("x", 2809).attr("y", 1975).attr("text-anchor", "end")
  .attr("font-size", 44).attr("fill", "#000").text("copyright Neubrex Co., Ltd.");
})();
</script>
</body></html>
